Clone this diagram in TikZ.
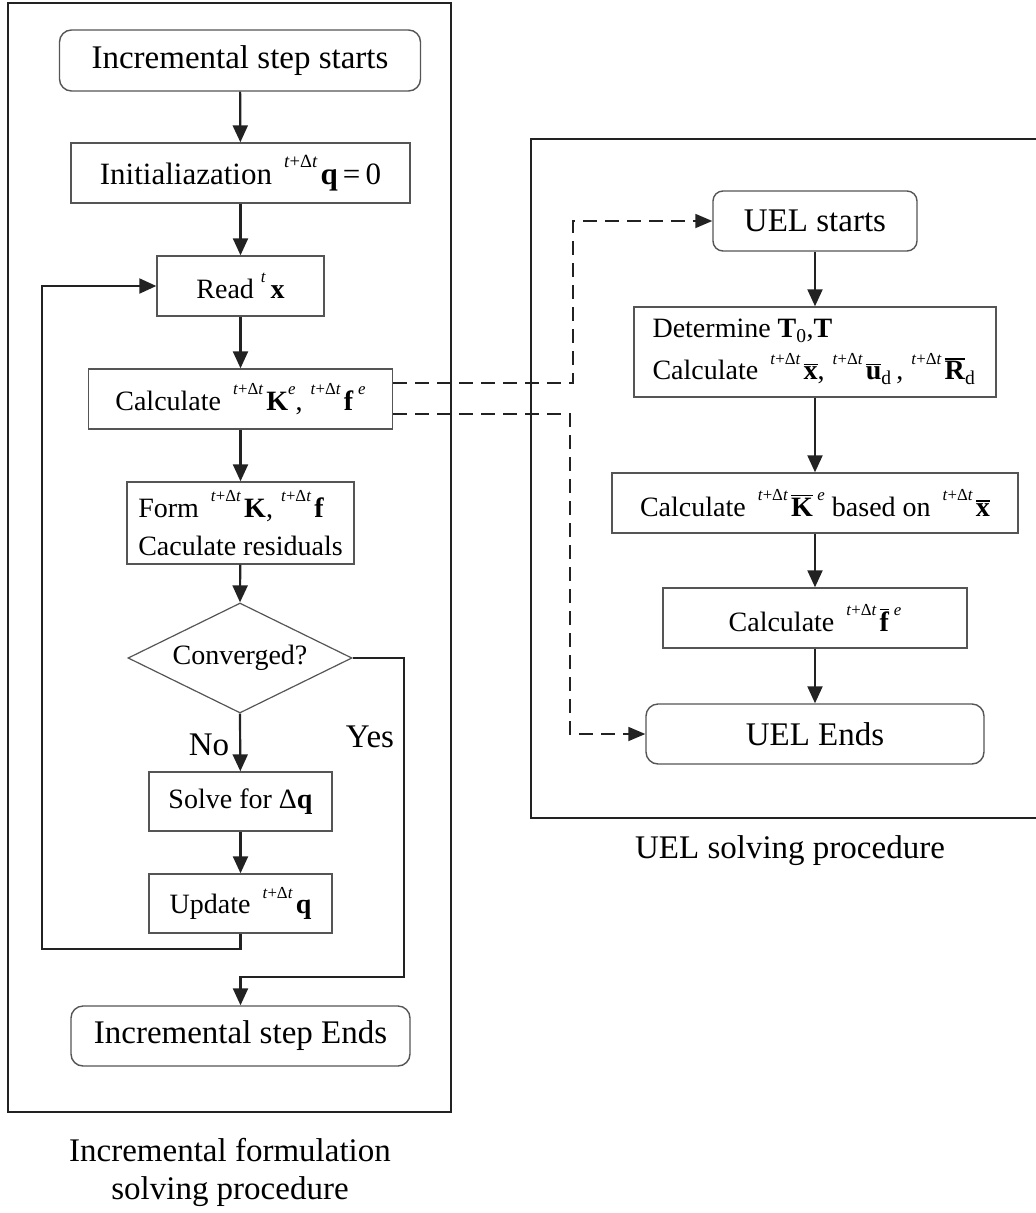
\documentclass[tikz,border=0pt]{standalone}
\usepackage{fontspec}
\setmainfont{Liberation Serif}
\usetikzlibrary{arrows.meta,shapes.geometric}
\makeatletter
\newcommand\pre[1]{\raisebox{0.55em}{\fontsize{\strip@pt\dimexpr\f@size pt*6/10\relax}{10}\selectfont #1}}
\makeatother
\newcommand\tdt{\hspace{12pt}\pre{\textit{t}+Δ\textit{t}}\kern3pt}
\newcommand\tdc{\hspace{8pt}\pre{\textit{t}+Δ\textit{t}}\kern3pt}
\newcommand\ovl[1]{\leavevmode\vbox{\hrule height 1.5pt\kern1.4pt\hbox{#1}}}
\newcommand\bodyfont{\fontsize{28}{34}\selectfont}
\newcommand\bigfont{\fontsize{33}{40}\selectfont}
\definecolor{ln}{HTML}{222222}
\definecolor{bx}{HTML}{555555}
\begin{document}
\begin{tikzpicture}[x=1pt,y=-1pt,
  frame/.style={draw=ln,line width=2pt},
  proc/.style={draw=bx,line width=1.4pt,rectangle,inner sep=0pt,font=\bodyfont,text=black},
  term/.style={draw=bx,line width=1.4pt,rectangle,rounded corners=12pt,inner sep=0pt,font=\bigfont,text=black},
  dec/.style={draw=bx,line width=1.2pt,diamond,aspect=2.04,inner sep=0pt,font=\bodyfont},
  conn/.style={draw=ln,line width=2.2pt,line join=miter,-{Triangle[length=17pt,width=15pt]}},
  dconn/.style={draw=ln,line width=1.8pt,dash pattern=on 14pt off 8pt,-{Triangle[length=17pt,width=14pt]}},
  lbl/.style={font=\bigfont,text=black,inner sep=0pt}]
\useasboundingbox (0,0) rectangle (1036,1213);
% frames
\draw[frame] (8,3) rectangle (451,1112);
\draw[frame] (1036,139) -- (531,139) -- (531,818) -- (1036,818);
% left nodes
\node[term,minimum width=361pt,minimum height=61pt] (start) at (240,60.5) {Incremental step starts};
\node[proc,minimum width=339pt,minimum height=60pt,font=\fontsize{31}{36}\selectfont] (init) at (240.5,173) {Initialiazation\tdt\textbf{q}\,=\,0};
\node[proc,minimum width=167pt,minimum height=60pt] (read) at (240.5,286) {Read \pre{\textit{t}}\,\textbf{x}};
\node[proc,minimum width=304pt,minimum height=60pt] (calc) at (240.5,399) {Calculate\tdt\textbf{K}\pre{\textit{e}},\tdc\textbf{f}\,\pre{\textit{e}}};
\node[proc,minimum width=227pt,minimum height=82pt,align=left] (form) at (240.5,523) {Form\tdt\textbf{K},\tdc\textbf{f}\\[4pt]Caculate residuals};
\node[dec,minimum width=224pt,minimum height=110pt] (conv) at (240,658) {Converged?};
\node[proc,minimum width=183pt,minimum height=59pt] (solve) at (240.5,801.5) {Solve for Δ\textbf{q}};
\node[proc,minimum width=183pt,minimum height=59pt] (upd) at (240.5,903.5) {Update\tdt\textbf{q}};
\node[term,minimum width=339pt,minimum height=60pt] (fin) at (240.5,1036) {Incremental step Ends};
\node[lbl] (no) at (209,745) {No};
\node[lbl] (yes) at (370,737) {Yes};
\node[lbl,align=center] (capl) at (230,1172) {Incremental formulation\\[-2pt]solving procedure};
% right nodes
\node[term,minimum width=204pt,minimum height=60pt,rounded corners=10pt] (us) at (815,221) {UEL starts};
\node[proc,minimum width=362pt,minimum height=90pt,align=left] (det) at (815,352) {Determine \textbf{T}\textsubscript{0},\textbf{T}\\[8pt]Calculate\tdt\ovl{\textbf{x}},\tdc\ovl{\textbf{u}}\textsubscript{d}\,,\tdc\ovl{\textbf{R}}\textsubscript{d}\hspace*{2pt}};
\node[proc,minimum width=406pt,minimum height=60pt] (ck) at (815,503) {Calculate\tdt\ovl{\textbf{K}}\,\pre{\textit{e}}\ based on\tdt\ovl{\textbf{x}}};
\node[proc,minimum width=304pt,minimum height=60pt] (cf) at (815,618) {Calculate\tdt\ovl{\textbf{f}}\,\pre{\textit{e}}};
\node[term,minimum width=338pt,minimum height=60pt] (ue) at (815,734) {UEL Ends};
\node[lbl] (capr) at (790,851) {UEL solving procedure};
% coordinates
\coordinate (yr) at (404,658);
\coordinate (yb) at (404,977);
\coordinate (ym) at (240.5,977);
\coordinate (lb) at (240.5,949);
\coordinate (ll) at (42,949);
\coordinate (lt) at (42,286);
\coordinate (d1a) at (573,383);
\coordinate (d1b) at (573,221);
\coordinate (d2a) at (570,414);
\coordinate (d2b) at (570,734);
% connectors
\draw[conn] (start) -- (init);
\draw[conn] (init) -- (read);
\draw[conn] (read) -- (calc);
\draw[conn] (calc) -- (form);
\draw[conn] (form) -- (conv.north);
\draw[conn] (conv.south) -- (solve);
\draw[conn] (solve) -- (upd);
\draw[conn] (upd.south) -- (lb) -- (ll) -- (lt) -- (read.west);
\draw[conn] (conv.east) -- (yr) -- (yb) -- (ym) -- (fin.north);
\draw[conn] (us) -- (det);
\draw[conn] (det) -- (ck);
\draw[conn] (ck) -- (cf);
\draw[conn] (cf) -- (ue);
\draw[dconn] (calc.east |- d1a) -- (d1a) -- (d1b) -- (us.west);
\draw[dconn] (calc.east |- d2a) -- (d2a) -- (d2b) -- (ue.west);
\end{tikzpicture}
\end{document}
